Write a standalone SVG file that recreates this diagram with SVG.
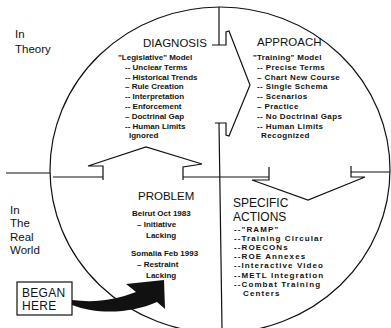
<svg xmlns="http://www.w3.org/2000/svg" width="391" height="328" viewBox="0 0 391 328">
<style>
.ln{fill:none;stroke:#111;stroke-width:1.2;stroke-linejoin:miter}
.big{font-family:"Liberation Sans",Arial,sans-serif;font-size:11.5px;fill:#111}
.side{font-family:"Liberation Sans",Arial,sans-serif;font-size:11.5px;fill:#111}
.sm{font-family:"Liberation Sans",Arial,sans-serif;font-size:8px;font-weight:bold;fill:#111}
</style>
<rect width="391" height="328" fill="#fff"/>
<g id="connectors">
<ellipse class="ln" cx="220" cy="170" rx="170" ry="163"/>
<path class="ln" d="M6,173 H50"/>
<path class="ln" d="M53,177 H103"/>
<path class="ln" d="M183,177 H269"/>
<path class="ln" d="M351,172 H390"/>
<path class="ln" d="M219,7 V45"/>
<path class="ln" d="M219,123 L222,328"/>
<path class="ln" d="M212,45 H226 V32 L229,31 L250,85 L229,136 L226,135 V123 H215"/>
<path class="ln" d="M103,180 V166 H88 L146,147 L202,164 L183,167 V180"/>
<path class="ln" d="M269,167 V180 H252 L308,200 L365,177 H351 V166"/>
<path d="M72,300 C95,303 115,300 136,292 L126,284 L164,280 L165,309 L157,302 C135,312 100,316 72,305 Z" fill="#111"/>
</g>
<g id="in-theory">
<text class="side" x="15" y="38">In</text>
<text class="side" x="15" y="53">Theory</text>
</g>
<g id="in-real-world">
<text class="side" x="10" y="214">In</text>
<text class="side" x="10" y="227">The</text>
<text class="side" x="10" y="241">Real</text>
<text class="side" x="10" y="254">World</text>
</g>
<g id="diagnosis">
<text class="big" x="143" y="47">DIAGNOSIS</text>
<text class="sm" x="118" y="60">"Legislative" Model</text>
<text class="sm" x="125" y="69.8">-- Unclear Terms</text>
<text class="sm" x="125" y="79.6">-- Historical Trends</text>
<text class="sm" x="125" y="89.4">– Rule Creation</text>
<text class="sm" x="125" y="99.2">-- Interpretation</text>
<text class="sm" x="125" y="109">-- Enforcement</text>
<text class="sm" x="125" y="118.8">– Doctrinal Gap</text>
<text class="sm" x="125" y="128.6">-- Human Limits</text>
<text class="sm" x="129" y="138.4">Ignored</text>
</g>
<g id="approach">
<text class="big" x="257" y="46">APPROACH</text>
<text class="sm" x="253" y="60" style="letter-spacing:0.3px">"Training"  Model</text>
<text class="sm" x="257" y="69.8" style="letter-spacing:0.4px">-- Precise Terms</text>
<text class="sm" x="257" y="79.6" style="letter-spacing:0.4px">– Chart New Course</text>
<text class="sm" x="257" y="89.4" style="letter-spacing:0.4px">-- Single Schema</text>
<text class="sm" x="257" y="99.2" style="letter-spacing:0.4px">-- Scenarios</text>
<text class="sm" x="257" y="109" style="letter-spacing:0.4px">– Practice</text>
<text class="sm" x="257" y="118.8" style="letter-spacing:0.4px">-- No Doctrinal Gaps</text>
<text class="sm" x="257" y="128.6" style="letter-spacing:0.4px">-- Human Limits</text>
<text class="sm" x="261" y="138.4" style="letter-spacing:0.4px">Recognized</text>
</g>
<g id="problem">
<text class="big" x="138" y="200">PROBLEM</text>
<text class="sm" x="132" y="216">Beirut Oct 1983</text>
<text class="sm" x="137" y="227">– Initiative</text>
<text class="sm" x="146" y="238">Lacking</text>
<text class="sm" x="131" y="256">Somalia Feb 1993</text>
<text class="sm" x="137" y="267">– Restraint</text>
<text class="sm" x="146" y="278">Lacking</text>
</g>
<g id="specific-actions">
<text class="big" x="233" y="207" style="font-size:12px">SPECIFIC</text>
<text class="big" x="233" y="221" style="font-size:12px">ACTIONS</text>
<g style="letter-spacing:1.1px">
<text class="sm" x="234" y="232">--"RAMP"</text>
<text class="sm" x="234" y="241.1">--Training Circular</text>
<text class="sm" x="234" y="250.2">--ROECONs</text>
<text class="sm" x="234" y="259.3">--ROE Annexes</text>
<text class="sm" x="234" y="268.4">--Interactive Video</text>
<text class="sm" x="234" y="277.5">--METL Integration</text>
<text class="sm" x="234" y="286.6">--Combat Training</text>
<text class="sm" x="243" y="295.7">Centers</text>
</g>
</g>
<g id="began-here">
<rect class="ln" x="17" y="282" width="55" height="33"/>
<text class="side" x="22" y="297" style="font-size:12px;letter-spacing:0.3px">BEGAN</text>
<text class="side" x="22" y="310" style="font-size:12px;letter-spacing:0.3px">HERE</text>
</g>
</svg>
